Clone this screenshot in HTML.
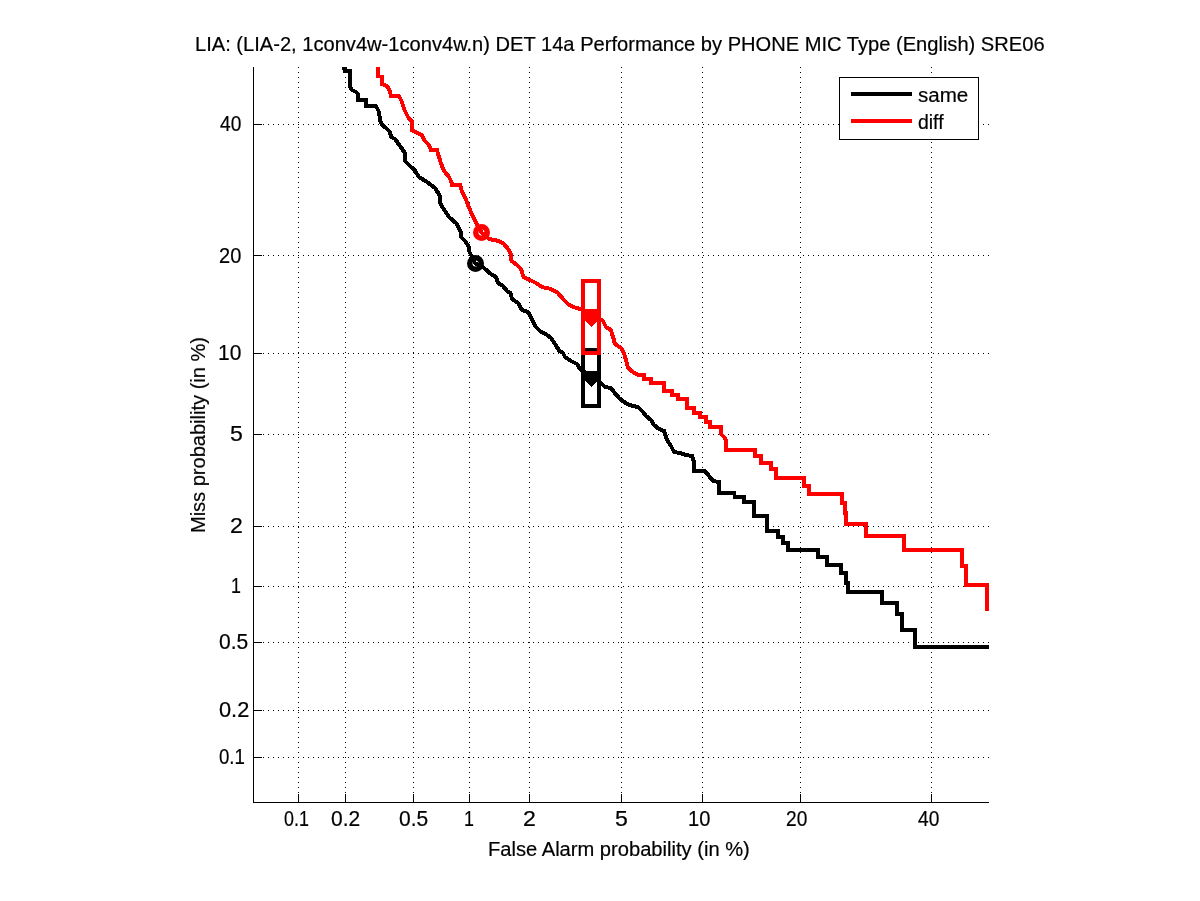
<!DOCTYPE html><html><head><meta charset="utf-8"><style>html,body{margin:0;padding:0;background:#fff;overflow:hidden}</style></head><body><svg width="1200" height="901" viewBox="0 0 1200 901" style="display:block" shape-rendering="crispEdges" font-family='"Liberation Sans", sans-serif'>
<rect x="0" y="0" width="1200" height="901" fill="#fff"/>
<path d="M298.5 803V67M345.5 803V67M413.5 803V67M469.5 803V67M529.5 803V67M621.5 803V67M702.5 803V67M800.5 803V67M931.5 803V67" stroke="#000" stroke-width="1" stroke-dasharray="1 4" fill="none"/>
<path d="M253 757.5H989M253 710.5H989M253 642.5H989M253 586.5H989M253 526.5H989M253 434.5H989M253 353.5H989M253 255.5H989M253 124.5H989" stroke="#000" stroke-width="1" stroke-dasharray="1 4" fill="none"/>
<path d="M298.5 802V794M345.5 802V794M413.5 802V794M469.5 802V794M529.5 802V794M621.5 802V794M702.5 802V794M800.5 802V794M931.5 802V794M254 757.5H262M254 710.5H262M254 642.5H262M254 586.5H262M254 526.5H262M254 434.5H262M254 353.5H262M254 255.5H262M254 124.5H262" stroke="#000" stroke-width="1" fill="none"/>
<path d="M253.5 67V802.5H989" stroke="#000" stroke-width="1" fill="none"/>
<defs><clipPath id="ax"><rect x="253" y="67" width="736" height="736"/></clipPath></defs>
<g clip-path="url(#ax)">
<path d="M342 68 L345 68 L345 71 L350 71 L350 86 L352 90 L356 92 L358 94 L358 100 L366 100 L366 106 L376 106 L379 112 L380 120 L382 125 L386 128 L390 132 L391 137 L395 139 L400 146 L405 153 L405 161 L410 166 L414.5 170 L419 177 L427 182 L435 188 L440 196 L440.5 204 L445 211 L449 217 L456 223 L460.5 231 L461 237 L465 241 L468.5 246 L469.5 252 L475 263 L484 268 L491 274 L496 277 L498 283 L503 286 L507 291 L510.5 293 L512 299 L518 303 L522 310 L528 312 L532 319 L535 326 L540 331 L547 335 L551 338 L555 344 L559 350.5 L563 353 L565 357 L571 361 L577 364 L580 369 L585 372 L597 380 L601 383 L605 387 L611 388 L614 392 L620 399 L627 404 L633 406 L638 407 L643 412 L646 416 L651 420 L654 425 L659 429 L664 431 L667 440 L671 446 L674 452 L680 453 L686 455 L692 456 L694 462 L694 471 L705 471 L713 481 L719 482 L719 493 L734 493 L735 497 L744 497 L744 502 L754 502 L754 516 L767 516 L767 531 L778 531 L778 537 L783 537 L783 543 L788 543 L788 550 L818 550 L818 557 L827 557 L827 565 L841 565 L841 573 L846 573 L846 583 L848 583 L848 592 L882 592 L882 603 L897 603 L897 614 L902 614 L902 630 L915 630 L915 647 L992 647" stroke="#000" stroke-width="4" fill="none" stroke-linejoin="miter" stroke-miterlimit="3" stroke-linecap="butt"/>
<circle cx="475.5" cy="263.5" r="5.75" stroke="#000" stroke-width="5.5" fill="none" shape-rendering="auto"/><rect x="583" y="350" width="16" height="56" stroke="#000" stroke-width="4" fill="none"/><path d="M585 371H597V381L591 387L585 381Z" fill="#000"/>
<path d="M378 62 L378 76 L382 77 L382 84 L387.5 86.5 L390 92 L391 96 L399 96 L401.5 101 L404.5 110 L408.5 118 L411.5 121 L411.5 130 L416.5 132.5 L422 135.5 L425 141 L429 145 L431 150 L437 150 L438 154 L440.5 162 L444 171 L448.5 176 L451 181 L452 184.5 L460 184.5 L461.5 190 L465.5 198.5 L468 205 L471.5 213.5 L474.5 220 L477 224.5 L481.5 232.5 L489 239 L499 241 L504 244 L508 249 L510.5 253 L511.5 261 L517 265 L521 269 L523.5 277 L530 280 L536 283 L542 287 L551 289 L558 293 L564 300 L569 305 L575 307.5 L580 309 L591 313 L603 321 L606 327 L611 330 L613 337 L615 344 L621 348 L624 353 L626 360 L628 368 L633 372 L638 375 L644 375 L644 379 L651 379 L651 383 L664 383 L664 391 L672 391 L672 395 L678 395 L678 399 L687 399 L687 408 L694 408 L694 413 L700 413 L700 417 L706 417 L706 422 L710 422 L710 427 L721 427 L721 434 L724 437 L726 440 L726 450 L755 450 L755 456 L761 456 L761 463 L771 463 L771 469 L776 469 L776 478 L804 478 L804 486 L809 486 L809 494 L842 494 L842 503 L845 503 L845 513 L846 513 L846 524 L866 524 L866 536 L904 536 L904 550 L962 550 L962 566 L966 566 L966 585 L987 585 L987 611" stroke="#f00" stroke-width="4" fill="none" stroke-linejoin="miter" stroke-miterlimit="3" stroke-linecap="butt"/>
<circle cx="481.5" cy="232.5" r="5.75" stroke="#f00" stroke-width="5.5" fill="none" shape-rendering="auto"/><rect x="583" y="281" width="16" height="72" stroke="#f00" stroke-width="4" fill="none"/><path d="M585 309H597V321L591 327L585 321Z" fill="#f00"/>
</g>
<rect x="839.5" y="77.5" width="139" height="62" fill="#fff" stroke="#000" stroke-width="1"/>
<rect x="851" y="92" width="61" height="4" fill="#000"/>
<rect x="851" y="119" width="61" height="4" fill="#f00"/>
<g fill="#000" stroke="#000" stroke-width="0.2" style="will-change:transform">
<text transform="translate(195 51) rotate(0) scale(0.9582 1.0)" font-size="21">LIA: (LIA-2, 1conv4w-1conv4w.n) DET 14a Performance by PHONE MIC Type (English) SRE06</text>
<text transform="translate(488 856) rotate(0) scale(0.9593 1.0)" font-size="21">False Alarm probability (in %)</text>
<text transform="translate(205 533) rotate(-90) scale(0.9554 1.0)" font-size="21">Miss probability (in %)</text>
<text transform="translate(918 102) rotate(0) scale(0.9804 1.0)" font-size="21">same</text>
<text transform="translate(918 129) rotate(0) scale(0.9259 1.0)" font-size="21">diff</text>
<text transform="translate(284 826) rotate(0) scale(0.8519 1.0714)" font-size="21">0.1</text>
<text transform="translate(331 826) rotate(0) scale(1.0 1.0714)" font-size="21">0.2</text>
<text transform="translate(399 826) rotate(0) scale(1.0 1.0714)" font-size="21">0.5</text>
<text transform="translate(464 826) rotate(0) scale(0.85 1.0714)" font-size="21">1</text>
<text transform="translate(523 826) rotate(0) scale(1.1 1.0714)" font-size="21">2</text>
<text transform="translate(615 826) rotate(0) scale(1.1 1.0714)" font-size="21">5</text>
<text transform="translate(688 826) rotate(0) scale(0.9548 1.0714)" font-size="21">10</text>
<text transform="translate(786 826) rotate(0) scale(0.9114 1.0714)" font-size="21">20</text>
<text transform="translate(918 826) rotate(0) scale(0.913 1.0714)" font-size="21">40</text>
<text transform="translate(219 764) rotate(0) scale(0.8889 1.0714)" font-size="21">0.1</text>
<text transform="translate(219 717) rotate(0) scale(1.037 1.0714)" font-size="21">0.2</text>
<text transform="translate(219 649) rotate(0) scale(1.0026 1.0714)" font-size="21">0.5</text>
<text transform="translate(231 593) rotate(0) scale(0.85 1.0714)" font-size="21">1</text>
<text transform="translate(230 533) rotate(0) scale(1.1 1.0714)" font-size="21">2</text>
<text transform="translate(230 441) rotate(0) scale(1.1 1.0714)" font-size="21">5</text>
<text transform="translate(218 360) rotate(0) scale(1.0 1.0714)" font-size="21">10</text>
<text transform="translate(219 263) rotate(0) scale(0.9545 1.0714)" font-size="21">20</text>
<text transform="translate(220 131) rotate(0) scale(0.913 1.0714)" font-size="21">40</text>
</g>
</svg></body></html>
